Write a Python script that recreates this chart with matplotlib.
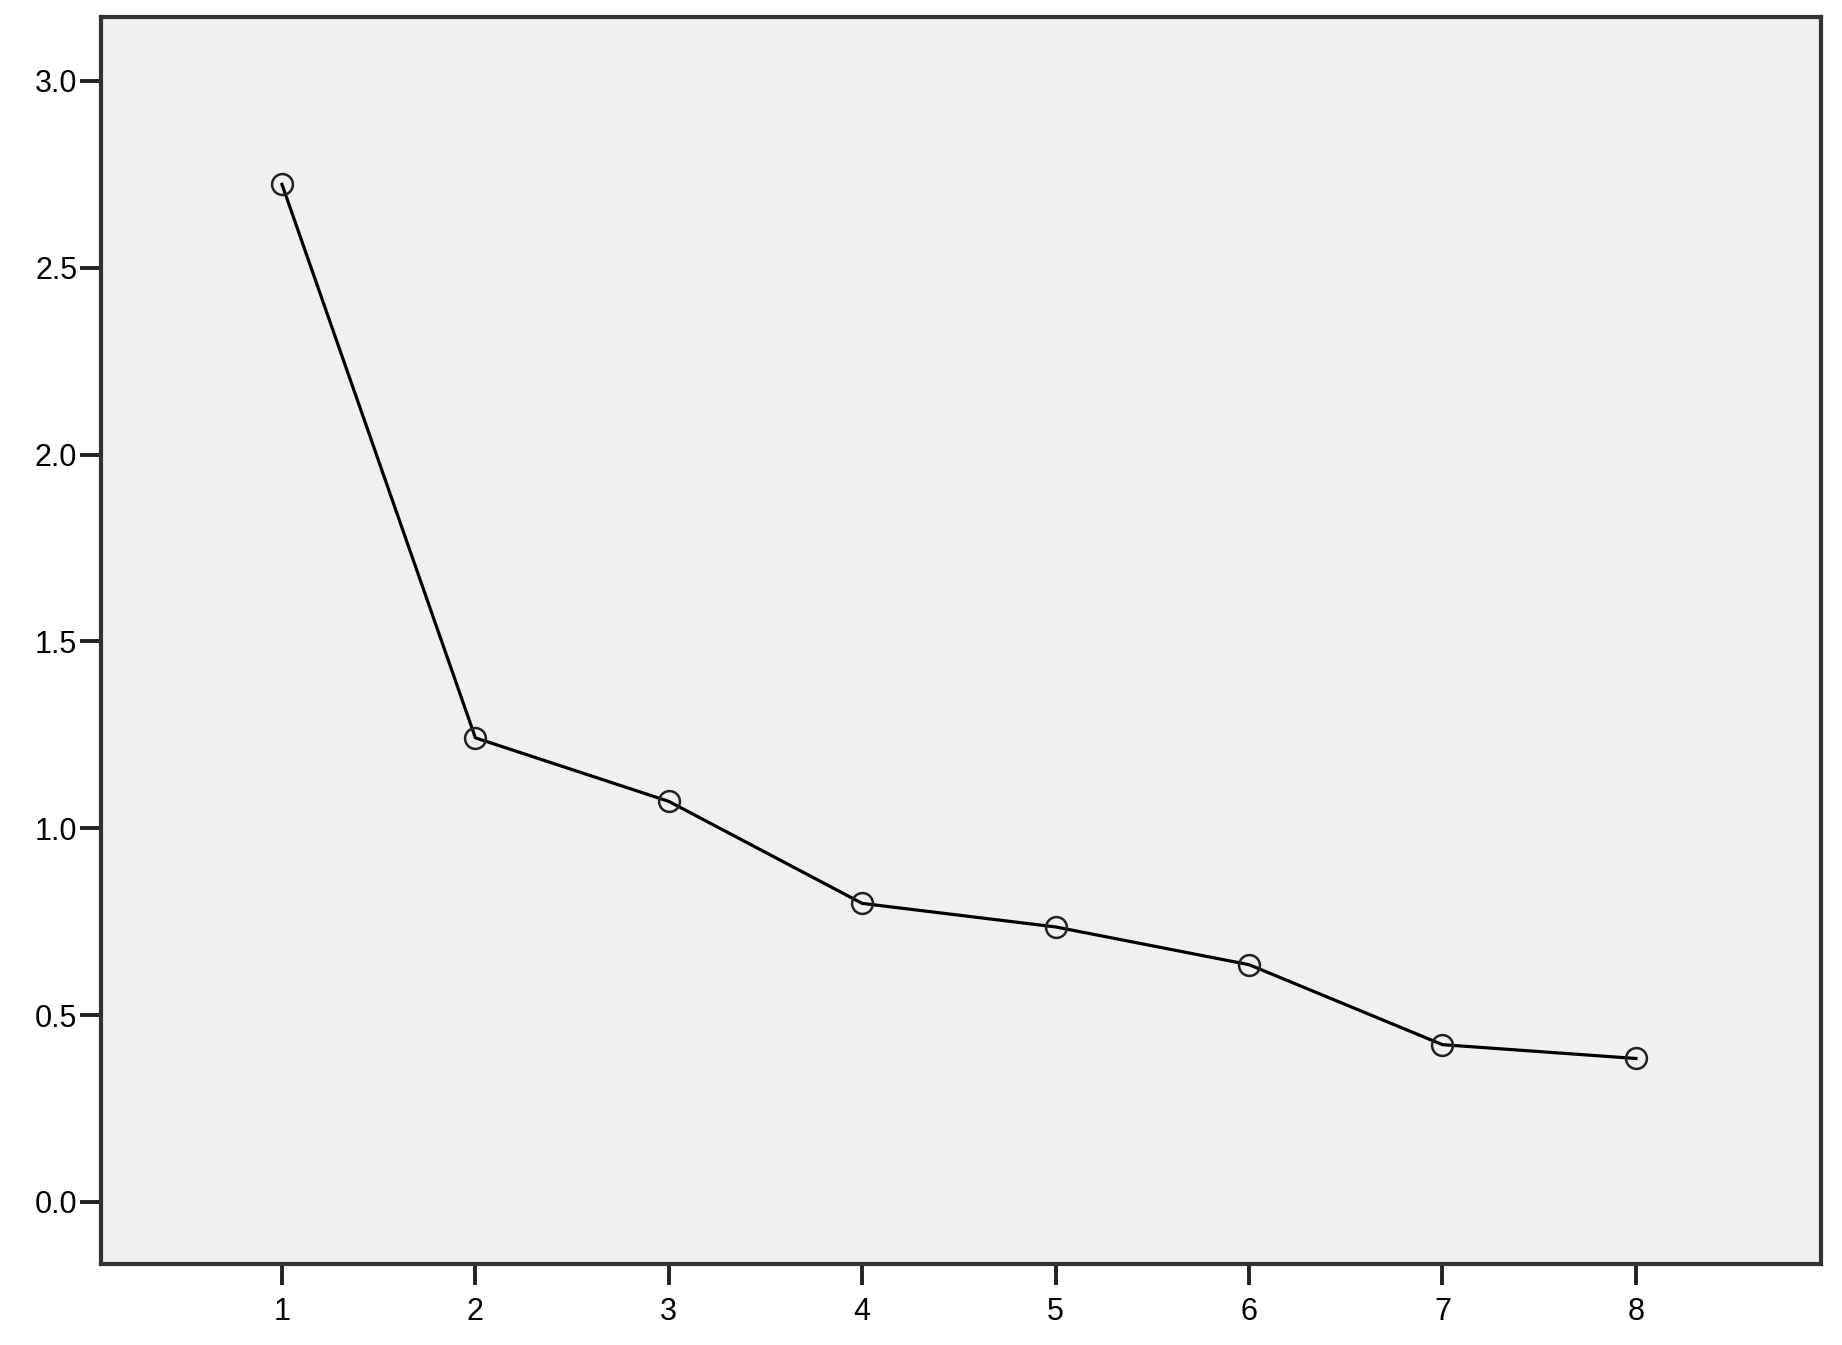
import numpy as np
import matplotlib
matplotlib.use("Agg")
import matplotlib.pyplot as plt

# Scree plot values
component = [1, 2, 3, 4, 5, 6, 7, 8]
eigenvalue = [2.723, 1.242, 1.072, 0.799, 0.736, 0.635, 0.421, 0.384]

y_ticks = [0.0, 0.5, 1.0, 1.5, 2.0, 2.5, 3.0]

plt.rcParams['font.family'] = ['Liberation Sans', 'DejaVu Sans']

fig = plt.figure(figsize=(18.42, 13.45), dpi=100)
ax = fig.add_axes([0.0548, 0.0602, 0.9338, 0.9272])
ax.set_facecolor('#f0f0f0')

ax.plot(component, eigenvalue, color='black', linewidth=2.3,
        marker='o', markersize=15, markerfacecolor='none',
        markeredgecolor='#222222', markeredgewidth=1.8)

ax.set_xlim(0.064, 8.957)
ax.set_ylim(-0.166, 3.171)
ax.set_xticks(component)
ax.set_yticks(y_ticks)
ax.set_yticklabels(["%.1f" % v for v in y_ticks])

for side in ['left', 'right', 'top', 'bottom']:
    ax.spines[side].set_color('#333333')
    ax.spines[side].set_linewidth(3.0)

ax.tick_params(axis='both', length=15, width=2.8, color='#222222',
               labelsize=22, labelcolor='black')
ax.tick_params(axis='y', pad=2)
ax.tick_params(axis='x', pad=9)

fig.savefig("out.png", dpi=100, facecolor='white')
